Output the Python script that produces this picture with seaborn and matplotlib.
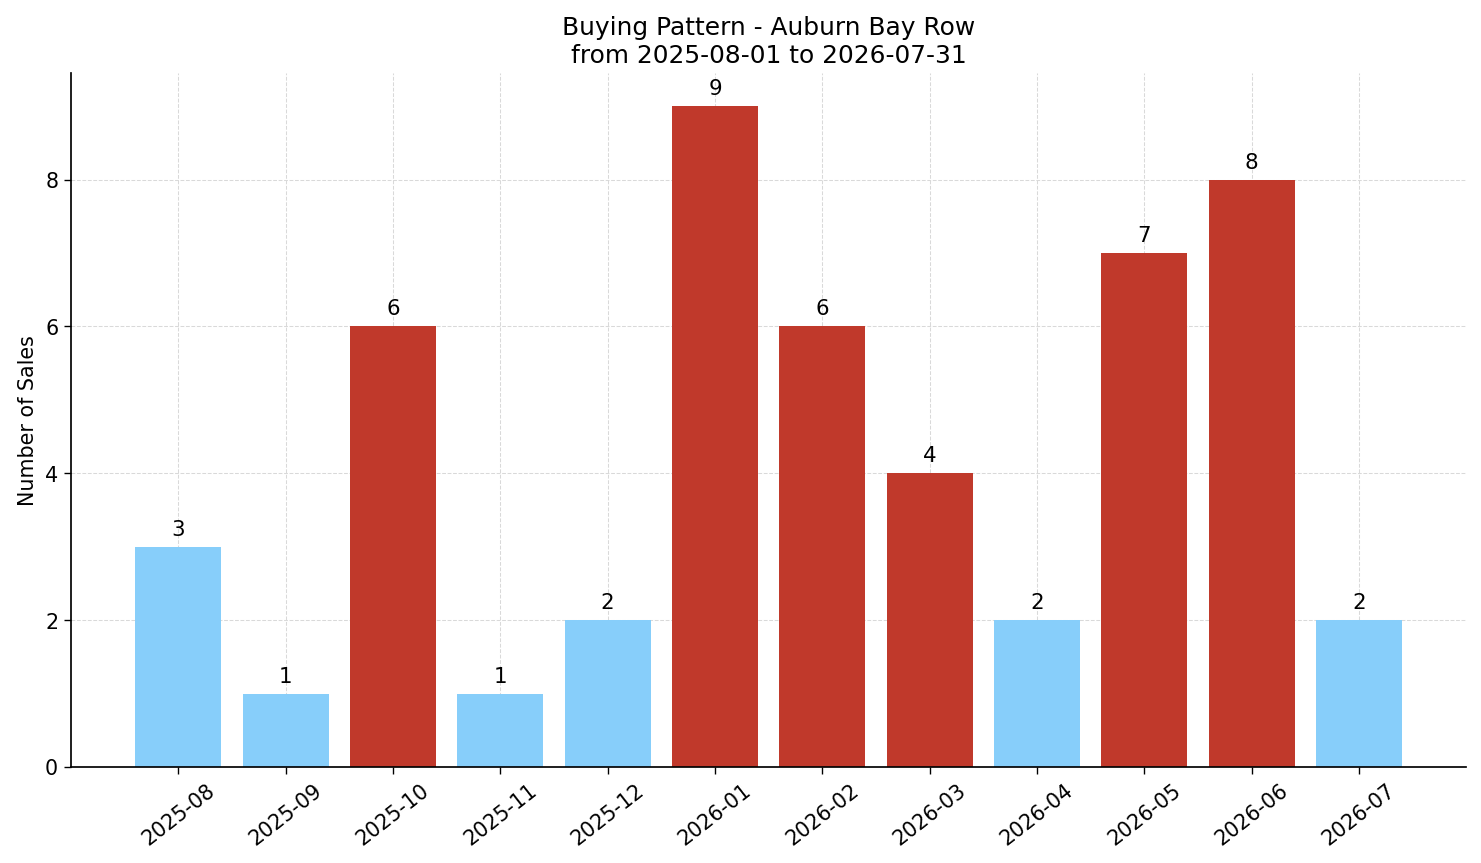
import matplotlib
matplotlib.use("Agg")
import matplotlib.pyplot as plt
import seaborn as sns
import pandas as pd

months = ["2025-08", "2025-09", "2025-10", "2025-11", "2025-12", "2026-01",
          "2026-02", "2026-03", "2026-04", "2026-05", "2026-06", "2026-07"]
sales = [3, 1, 6, 1, 2, 9, 6, 4, 2, 7, 8, 2]
level = ["low", "low", "high", "low", "low", "high",
         "high", "high", "low", "high", "high", "low"]

palette = {"low": "#87CEFA", "high": "#C0392B"}

sns.set_style("white", rc={"axes.edgecolor": "black", "text.color": "black",
                           "axes.labelcolor": "black", "xtick.color": "black",
                           "ytick.color": "black"})
plt.rcParams['font.family'] = ['DejaVu Sans']

df = pd.DataFrame({"month": months, "sales": sales, "level": level})

fig, ax = plt.subplots(figsize=(12.0, 6.995), dpi=123.42)
sns.barplot(data=df, x="month", y="sales", hue="level", palette=palette,
            dodge=False, width=0.8, saturation=1, legend=False, ax=ax,
            edgecolor="none", linewidth=0, zorder=2)

for i, v in enumerate(sales):
    ax.text(i, v + 0.1, str(v), ha="center", va="bottom", fontsize=12.5, zorder=4)

ax.set_xlim(-1, 12)
ax.set_ylim(0, 9.45)
ax.grid(True, linestyle="--", color="#d9d9d9", linewidth=0.6, zorder=3)
ax.set_xlabel("")
ax.set_ylabel("Number of Sales", fontsize=12)
ax.set_title("Buying Pattern - Auburn Bay Row\nfrom 2025-08-01 to 2026-07-31", fontsize=14.5)
ax.tick_params(axis="x", rotation=38, labelsize=12, length=4, bottom=True)
ax.tick_params(axis="y", labelsize=12, length=4, left=True)
for s in ax.spines.values():
    s.set_linewidth(1.0)
sns.despine(ax=ax)
fig.subplots_adjust(left=0.048, right=0.99, top=0.915, bottom=0.111)
fig.savefig("out.png", dpi=123.42)
